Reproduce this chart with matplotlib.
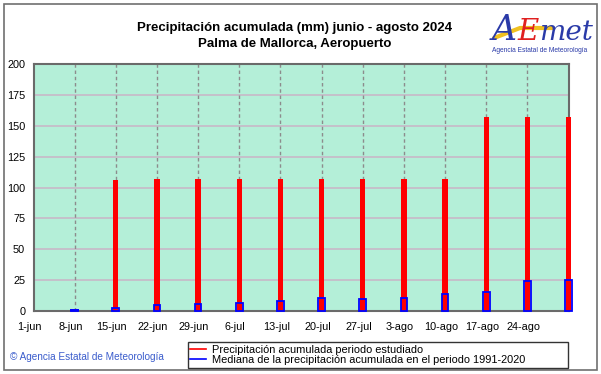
import matplotlib
matplotlib.use("Agg")
import matplotlib.pyplot as plt
from matplotlib.lines import Line2D
from matplotlib.patches import Rectangle
import matplotlib.transforms as mtransforms

plt.rcParams['font.family'] = ['Liberation Sans', 'DejaVu Sans']

# ---- data ----
labels = ['1-jun', '8-jun', '15-jun', '22-jun', '29-jun', '6-jul', '13-jul',
          '20-jul', '27-jul', '3-ago', '10-ago', '17-ago', '24-ago', '31-ago']
day_index = [0, 7, 14, 21, 28, 35, 42, 49, 56, 63, 70, 77, 84, 91]
acumulada = [0, 0, 106.0, 106.8, 106.8, 106.8, 106.8, 106.8, 106.8, 106.8,
             106.8, 157.0, 157.0, 157.0]
mediana = [0, 0.6, 2.5, 4.5, 5.6, 6.5, 8.0, 10.2, 10.0, 10.4, 13.8, 15.0,
           24.3, 25.0]
yticks = [0, 25, 50, 75, 100, 125, 150, 175, 200]

W, H = 601, 374
fig = plt.figure(figsize=(W / 100, H / 100), dpi=100)
fig.patch.set_facecolor('white')

def px(x0, y0, x1, y1):
    return [x0 / W, 1 - y1 / H, (x1 - x0) / W, (y1 - y0) / H]

ax = fig.add_axes(px(33.5, 64, 568.5, 311))
ax.set_facecolor('#b4efd8')
ax.set_xlim(0, 91)
ax.set_ylim(0, 200)

# grid
for y in yticks[1:-1]:
    ax.axhline(y, color='#c8b8c8', lw=1.2, zorder=1)
for d in day_index[1:-1]:
    ax.axvline(d, color='#8c8c8c', lw=1.0, ls=(0, (2.5, 2)), zorder=1)

# bars
r = ax.bar(day_index, acumulada, width=0.9, color='#ff0000', zorder=3)
b = ax.bar(day_index, mediana, width=1.15, facecolor='none', edgecolor='#0000ff',
           linewidth=1.3, zorder=4)
b8 = ax.bar([day_index[1]], [mediana[1]], width=1.15, facecolor='#0000ff',
            edgecolor='#0000ff', linewidth=1.3, zorder=4)
for p, v in zip(r, acumulada):
    p.set_clip_on(False)
for p, v in zip(b, mediana):
    p.set_clip_on(False)
    if v == 0:
        p.set_visible(False)

for s in ax.spines.values():
    s.set_color('#6a6a6a')
    s.set_linewidth(1.5)
    s.set_zorder(2)

ax.set_yticks(yticks)
ax.set_yticklabels([str(v) for v in yticks])
ax.set_xticks(day_index[:-1])
ax.set_xticklabels(labels[:-1])
ax.tick_params(axis='both', length=0, labelsize=7.8, colors='#000000')
ax.tick_params(axis='y', pad=6)
ax.tick_params(axis='x', pad=8)
offset = mtransforms.ScaledTranslation(-4 / 100, 0, fig.dpi_scale_trans)
for lbl in ax.get_xticklabels():
    lbl.set_transform(lbl.get_transform() + offset)

# title
fig.text(295 / W, 1 - 28 / H, 'Precipitación acumulada (mm) junio - agosto 2024',
         ha='center', va='center', fontsize=9.5, fontweight='bold')
fig.text(295 / W, 1 - 44 / H, 'Palma de Mallorca, Aeropuerto',
         ha='center', va='center', fontsize=9.5, fontweight='bold')

# logo (approximation)
fig.add_artist(Line2D([494 / W, 520 / W, 552 / W], [1 - 38 / H, 1 - 28 / H, 1 - 28 / H],
                      color='#f0c020', lw=3, solid_capstyle='round'))
renderer = fig.canvas.get_renderer()
xcur = 492
for txt, col, fs in [('A', '#2a3aa8', 25), ('E', '#e02020', 21), ('met', '#2a3aa8', 20)]:
    t = fig.text(xcur / W, 1 - 40 / H, txt, color=col, fontsize=fs, style='italic',
                 ha='left', va='baseline', family='DejaVu Serif')
    bb = t.get_window_extent(renderer)
    xcur = bb.x1 + 0.5
fig.text(540 / W, 1 - 50 / H, 'Agencia Estatal de Meteorología', color='#2a3aa8',
         fontsize=4.8, ha='center', va='center')

# legend
handles = [Line2D([], [], color='#ff0000', lw=1.2),
           Line2D([], [], color='#0000ff', lw=1.2)]
leg = fig.legend(handles,
                 ['Precipitación acumulada periodo estudiado',
                  'Mediana de la precipitación acumulada en el periodo 1991-2020'],
                 loc='lower left', mode='expand',
                 bbox_to_anchor=(187.5 / W, 1 - 367.5 / H, 380.5 / W, 30 / H),
                 fontsize=7.9, frameon=True, fancybox=False, handlelength=1.4,
                 handletextpad=0.6, borderpad=0.25, labelspacing=0.0,
                 borderaxespad=0)
leg.get_frame().set_edgecolor('#000000')
leg.get_frame().set_linewidth(1.0)

# copyright
fig.text(10 / W, 1 - 357 / H, '© Agencia Estatal de Meteorología', color='#3a5ccc',
         fontsize=7.2, ha='left', va='center')

# outer border
fig.add_artist(Rectangle((4 / W, 1 - 370 / H), 592.5 / W, 366 / H, fill=False,
                         edgecolor='#707070', lw=1.2, transform=fig.transFigure))

fig.savefig('out.png', dpi=100)
